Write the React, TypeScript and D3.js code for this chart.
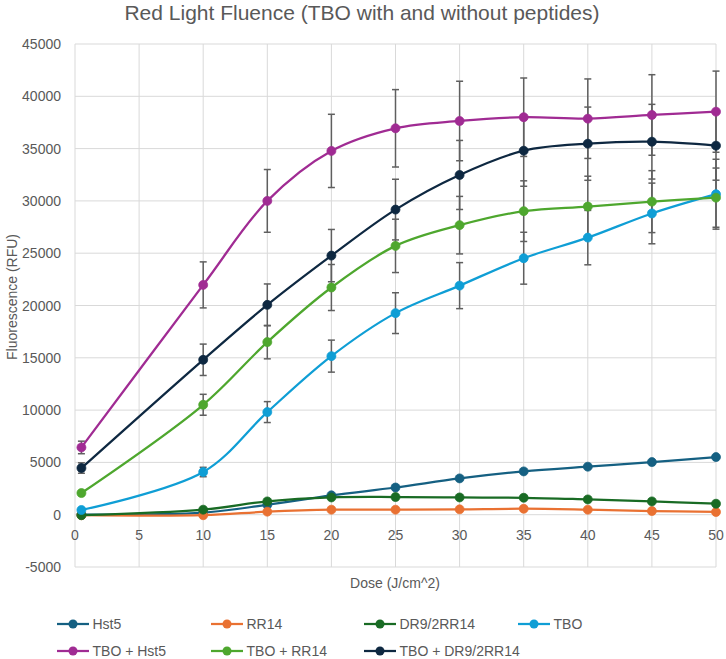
import React from "react";
import * as d3 from "d3";

const doses = [0.5, 10, 15, 20, 25, 30, 35, 40, 45, 50];
const xTicks = [0, 5, 10, 15, 20, 25, 30, 35, 40, 45, 50];
const yTicks = [-5000, 0, 5000, 10000, 15000, 20000, 25000, 30000, 35000, 40000, 45000];

const seriesNames = ["Hst5", "RR14", "DR9/2RR14", "TBO", "TBO + Hst5", "TBO + RR14", "TBO + DR9/2RR14"];
const seriesColors = ["#156082", "#E97132", "#196B24", "#0F9ED5", "#A02B93", "#4EA72E", "#0E2841"];

const hst5 = [0, 200, 950, 1850, 2600, 3470, 4140, 4590, 5030, 5510];
const rr14 = [-50, -50, 290, 480, 480, 510, 570, 480, 350, 260];
const dr9 = [-50, 480, 1270, 1650, 1690, 1650, 1620, 1460, 1270, 1050];
const tbo = [450, 4080, 9810, 15160, 19270, 21900, 24520, 26490, 28800, 30640];
const tboHst5 = [6430, 21970, 30000, 34780, 36940, 37640, 38000, 37860, 38215, 38530];
const tboRr14 = [2070, 10510, 16500, 21720, 25700, 27680, 29020, 29460, 29930, 30310];
const tboDr9 = [4460, 14810, 20060, 24770, 29170, 32480, 34800, 35470, 35660, 35280];

const errTbo = [150, 450, 1000, 1530, 1950, 2200, 2480, 2600, 2900, 3340];
const errTboHst5 = [600, 2200, 3000, 3500, 3700, 3800, 3750, 3800, 3850, 3880];
const errTboRr14 = [200, 1000, 1600, 2200, 2550, 2750, 2900, 2900, 2960, 2830];
const errTboDr9 = [500, 1500, 2000, 2500, 2900, 3300, 3400, 3500, 3570, 3300];

const seriesValues = [hst5, rr14, dr9, tbo, tboHst5, tboRr14, tboDr9];
const seriesErrors = [null, null, null, errTbo, errTboHst5, errTboRr14, errTboDr9];

const W = 726;
const H = 659;
const FONT = "'Liberation Sans', Arial, sans-serif";
const TEXT = "#595959";
const GRID = "#d9d9d9";

export default function App() {
  const x = d3.scaleLinear().domain([0, 50]).range([75, 716]);
  const y = d3.scaleLinear().domain([-5000, 45000]).range([567, 44]);
  const line = d3
    .line<[number, number]>()
    .x((d) => x(d[0]))
    .y((d) => y(d[1]))
    .curve(d3.curveCatmullRom.alpha(0.5));

  const legendCols = [73, 227, 380, 534];
  const legendRows = [624, 651];

  return (
    <svg
      width={W}
      height={H}
      style={{ position: "absolute", left: 0, top: 0, background: "#fff" }}
      fontFamily={FONT}
    >
      <rect x={0} y={0} width={W} height={H} fill="#fff" />
      <text x={362} y={20} textAnchor="middle" fontSize={21} fill={TEXT}>
        Red Light Fluence (TBO with and without peptides)
      </text>

      {/* grid */}
      {yTicks.map((t) => (
        <line key={"gy" + t} x1={x(0)} x2={x(50)} y1={y(t)} y2={y(t)} stroke={GRID} strokeWidth={1} />
      ))}
      {xTicks.map((t) => (
        <line key={"gx" + t} x1={x(t)} x2={x(t)} y1={y(45000)} y2={y(-5000)} stroke={GRID} strokeWidth={1} />
      ))}

      {/* y tick labels */}
      {yTicks.map((t) => (
        <text key={"ly" + t} x={61} y={y(t) + 5} textAnchor="end" fontSize={14} fill={TEXT}>
          {t}
        </text>
      ))}
      {/* x tick labels */}
      {xTicks.map((t) => (
        <text key={"lx" + t} x={x(t)} y={539.5} textAnchor="middle" fontSize={14} fill={TEXT}>
          {t}
        </text>
      ))}

      <text x={395} y={588} textAnchor="middle" fontSize={14} fill={TEXT}>
        Dose (J/cm^2)
      </text>
      <text transform="translate(17,297) rotate(-90)" textAnchor="middle" fontSize={14} fill={TEXT}>
        Fluorescence (RFU)
      </text>

      {/* error bars */}
      {seriesErrors.map((errs, si) =>
        errs
          ? errs.map((e, i) => {
              const cx = x(doses[i]);
              const v = seriesValues[si][i];
              const yt = y(v + e);
              const yb = y(v - e);
              return (
                <g key={"e" + si + "-" + i} stroke="#5f5f5f" strokeWidth={1.5}>
                  <line x1={cx} x2={cx} y1={yt} y2={yb} />
                  <line x1={cx - 3.5} x2={cx + 3.5} y1={yt} y2={yt} />
                  <line x1={cx - 3.5} x2={cx + 3.5} y1={yb} y2={yb} />
                </g>
              );
            })
          : null
      )}

      {/* series */}
      {seriesValues.map((vals, si) => {
        const pts = vals.map((v, i) => [doses[i], v] as [number, number]);
        return (
          <g key={"s" + si}>
            <path d={line(pts) || ""} fill="none" stroke={seriesColors[si]} strokeWidth={2.25} />
            {pts.map((p, i) => (
              <circle key={i} cx={x(p[0])} cy={y(p[1])} r={4.5} fill={seriesColors[si]} stroke={seriesColors[si]} strokeWidth={0.75} />
            ))}
          </g>
        );
      })}

      {/* legend */}
      {seriesNames.map((name, i) => {
        const col = i < 4 ? i : i - 4;
        const row = i < 4 ? 0 : 1;
        const cx = legendCols[col];
        const cy = legendRows[row];
        return (
          <g key={"lg" + i}>
            <line x1={cx - 16} x2={cx + 16} y1={cy} y2={cy} stroke={seriesColors[i]} strokeWidth={2.25} />
            <circle cx={cx} cy={cy} r={4.5} fill={seriesColors[i]} />
            <text x={cx + 19.5} y={cy + 5} fontSize={14} fill={TEXT}>
              {name}
            </text>
          </g>
        );
      })}
    </svg>
  );
}
